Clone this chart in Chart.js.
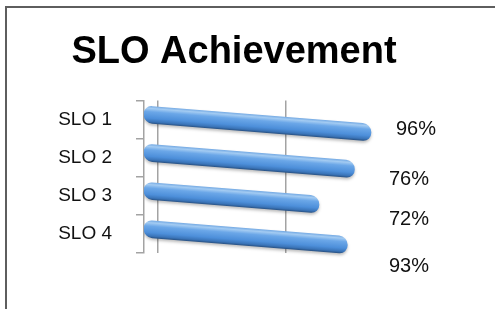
<!DOCTYPE html>
<html>
<head>
<meta charset="utf-8">
<script src="https://cdn.jsdelivr.net/npm/chart.js@4/dist/chart.umd.min.js"></script>
<style>
  html, body { margin: 0; padding: 0; background: #ffffff; }
  #wrap { position: relative; width: 495px; height: 309px; overflow: hidden; background: #fff; }
  #frame { position: absolute; left: 5px; top: 6px; width: 600px; height: 400px;
           border-top: 2px solid #5e5e5e; border-left: 2px solid #5e5e5e; pointer-events: none; }
  canvas { position: absolute; left: 0; top: 0; }
</style>
</head>
<body>
<div id="wrap">
  <canvas id="c" width="495" height="309"></canvas>
  <div id="frame"></div>
</div>
<script>
// ---- data ----
const categories = ['SLO 1', 'SLO 2', 'SLO 3', 'SLO 4'];
const barValues = [96, 89, 74, 86];               // bar lengths as drawn
const valueLabels = ['96%', '76%', '72%', '93%']; // data label texts as printed
const gridValues = [6, 60];

const FONT = "'Liberation Sans', Arial, sans-serif";
const BAR_T = 17;

// shear plugin: gives the bars their slanted 3-D look
const shearPlugin = {
  id: 'shear',
  beforeDatasetsDraw(chart, args, opts) {
    const ctx = chart.ctx;
    ctx.save();
    ctx.transform(1, opts.k, 0, 1, 0, -opts.k * opts.x0);
    ctx.shadowColor = 'rgba(0,0,0,0.25)';
    ctx.shadowBlur = 3;
    ctx.shadowOffsetY = 2;
  },
  afterDatasetsDraw(chart) {
    chart.ctx.restore();
  }
};

// data labels placed as in the picture
const labelPlugin = {
  id: 'valLabels',
  afterDraw(chart, args, opts) {
    const ctx = chart.ctx;
    const ys = chart.scales.y;
    ctx.save();
    ctx.font = opts.font;
    ctx.fillStyle = opts.color;
    ctx.textAlign = 'center';
    ctx.textBaseline = 'middle';
    valueLabels.forEach((t, i) => {
      const x = chart.chartArea.right + opts.dx[i];
      const y = ys.getPixelForValue(i) + opts.dy[i];
      ctx.fillText(t, x, y);
    });
    ctx.restore();
  }
};

function barGradient(context) {
  const chart = context.chart;
  const ys = chart.scales && chart.scales.y;
  if (!ys || context.dataIndex === undefined) return '#4a8fd9';
  const yc = ys.getPixelForValue(context.dataIndex);
  if (!isFinite(yc)) return '#4a8fd9';
  const h = BAR_T / 2;
  const g = chart.ctx.createLinearGradient(0, yc - h, 0, yc + h);
  g.addColorStop(0, '#7aaee6');
  g.addColorStop(0.12, '#a3cbf2');
  g.addColorStop(0.32, '#6ba7e8');
  g.addColorStop(0.7, '#4d8fda');
  g.addColorStop(0.9, '#3a74b8');
  g.addColorStop(1, '#2b568a');
  return g;
}

new Chart(document.getElementById('c'), {
  type: 'bar',
  data: {
    labels: categories,
    datasets: [{
      data: barValues,
      backgroundColor: barGradient,
      borderWidth: 0,
      borderRadius: BAR_T / 2,
      borderSkipped: false,
      barThickness: BAR_T
    }]
  },
  plugins: [shearPlugin, labelPlugin],
  options: {
    indexAxis: 'y',
    responsive: false,
    animation: false,
    devicePixelRatio: 1,
    layout: { padding: { left: 58, right: 85, top: 30, bottom: 56 } },
    scales: {
      x: {
        min: 0,
        max: 112.5,
        afterBuildTicks: (axis) => { axis.ticks = gridValues.map(v => ({ value: v })); },
        ticks: { display: false },
        grid: { color: '#a3a3a3', lineWidth: 1.5, drawTicks: false },
        border: { display: false }
      },
      y: {
        afterFit: (scale) => { scale.width = 86; },
        ticks: { color: '#111', font: { family: FONT, size: 19 }, padding: 24 },
        grid: { offset: true, drawOnChartArea: false, drawTicks: true, tickLength: 8,
                color: '#a3a3a3', lineWidth: 1.5 },
        border: { display: true, color: '#a3a3a3', width: 1.5 }
      }
    },
    plugins: {
      legend: { display: false },
      tooltip: { enabled: false },
      title: {
        display: true,
        text: 'SLO Achievement',
        color: '#000',
        font: { family: FONT, size: 38, weight: 'bold', lineHeight: 1.17 },
        padding: { top: 0, bottom: 26 }
      },
      shear: { k: 0.08, x0: 209 },
      valLabels: {
        font: "20px " + FONT,
        color: '#111',
        dx: [6, -1, -1, -1],
        dy: [9.5, 21.8, 24.1, 32.9]
      }
    }
  }
});
</script>
</body>
</html>
